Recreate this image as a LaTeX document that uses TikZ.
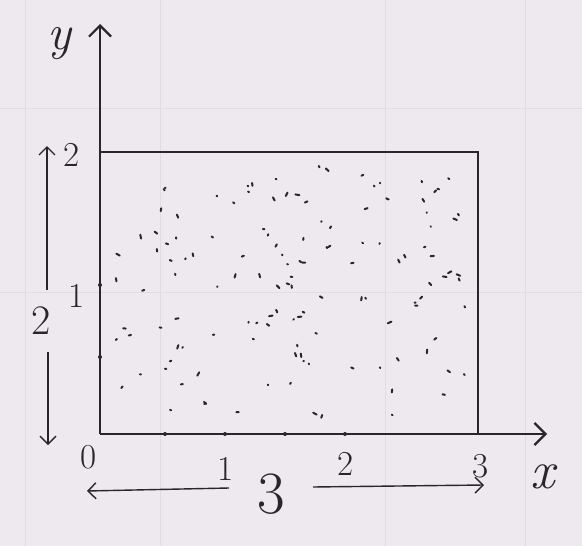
\documentclass[tikz,border=0pt]{standalone}
\usetikzlibrary{arrows.meta}
\definecolor{paper}{RGB}{237,233,239}
\definecolor{ink}{RGB}{40,38,42}
\definecolor{faint}{RGB}{224,220,226}
\begin{document}
\begin{tikzpicture}[x=1pt,y=-1pt,
  axis/.style={draw=ink,line width=2.4pt,-{Straight Barb[length=11pt,width=22pt,line width=2.2pt]}},
  edge/.style={draw=ink,line width=2pt},
  dim/.style={draw=ink,line width=1.4pt,-{Straight Barb[length=8pt,width=16pt,line width=1.4pt]}},
  lbl/.style={text=ink,font=\fontsize{35}{35}\selectfont,inner sep=0pt},
  dot/.style={draw=ink,line width=2pt,line cap=round}]
\fill[paper] (0,0) rectangle (582,546);
\useasboundingbox (0,0) rectangle (582,546);
% faint paper lines
\foreach \xx in {25,160,385,525} \draw[faint,line width=1pt] (\xx,0) -- (\xx,546);
\foreach \yy in {108,292} \draw[faint,line width=1pt] (0,\yy) -- (582,\yy);
% key points
\coordinate (O) at (100,434);
\coordinate (Xend) at (547,434);
\coordinate (Yend) at (100,24);
\coordinate (TL) at (100,152);
\coordinate (TR) at (478,152);
\coordinate (BR) at (478,434);
% stipple
\pgfmathsetseed{31}
\foreach \i in {1,...,130}{
  \pgfmathsetmacro\px{115+rnd*350}
  \pgfmathsetmacro\py{165+rnd*255}
  \pgfmathsetmacro\ang{rnd*180}
  \pgfmathsetmacro\len{0.5+rnd*3.5}
  \draw[dot] (\px,\py) -- ++(\ang:\len);
}
% rectangle
\draw[edge] (TL) -- (TR) -- (BR);
% axes
\draw[axis] (O) -- (Xend);
\draw[axis] (O) -- (Yend);
% tick dots
\foreach \p in {(100,285),(100,357),(165,434),(225,434),(285,434),(345,434)} \fill[ink] \p circle (2);
% axis labels
\node[lbl,font=\fontsize{50}{50}\selectfont\itshape] (ylab) at (59,44) {y};
\node[lbl,font=\fontsize{54}{54}\selectfont\itshape] (xlab) at (543,477) {x};
\node[lbl] (zero) at (89,457) {0};
\node[lbl] (x1) at (226,469) {1};
\node[lbl] (x2) at (346,464) {2};
\node[lbl] (x3) at (481,466) {3};
\node[lbl] (y1) at (77,296) {1};
\node[lbl] (y2) at (72,155) {2};
% left dimension
\coordinate (L1) at (47,146);
\coordinate (L2) at (47,290);
\coordinate (L3) at (48,352);
\coordinate (L4) at (48,445);
\draw[dim] (L2) -- (L1);
\draw[dim] (L3) -- (L4);
\node[lbl,font=\fontsize{42}{42}\selectfont] (dimh) at (41,321) {2};
% bottom dimension
\coordinate (B1) at (87,491);
\coordinate (B2) at (229,488);
\coordinate (B3) at (313,487);
\coordinate (B4) at (484,485);
\draw[dim] (B2) -- (B1);
\draw[dim] (B3) -- (B4);
\node[lbl,font=\fontsize{60}{60}\selectfont] (dimw) at (271,494) {3};
\end{tikzpicture}
\end{document}
